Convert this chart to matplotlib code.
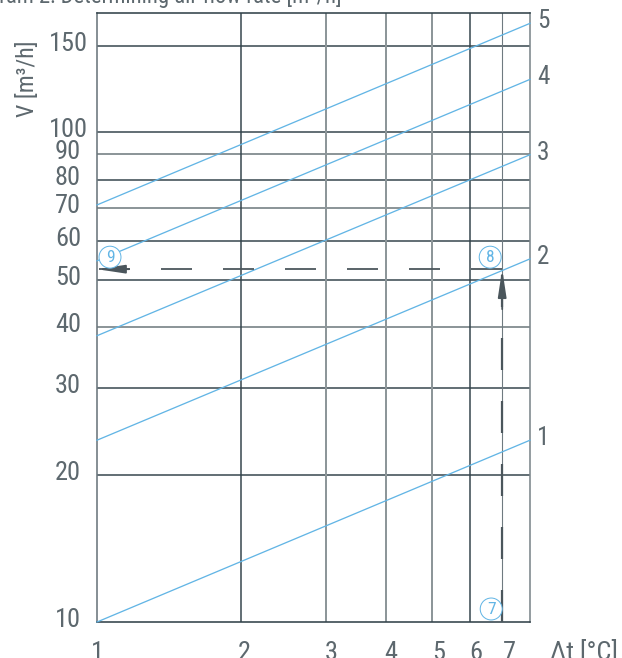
import matplotlib
matplotlib.use('Agg')
import matplotlib.pyplot as plt
from matplotlib import font_manager as fm
from matplotlib.ticker import NullLocator

plt.rcParams['lines.scale_dashes'] = False

# ---------------- data ----------------
dt_range = [1, 8]
v_range = [10, 175]
curve_labels = ['1', '2', '3', '4', '5']
v_at_dt_min = [10.0, 23.5, 38.4, 54.6, 71.0]
v_at_dt_max = [23.5, 55.1, 89.9, 128.1, 166.7]
x_ticks = [1, 2, 3, 4, 5, 6, 7]
y_ticks = [10, 20, 30, 40, 50, 60, 70, 80, 90, 100, 150]
x_grid = [2, 3, 4, 5, 6, 7]
y_grid = [20, 30, 40, 50, 60, 70, 80, 90, 100, 150]
example_dt = 7
example_v = 52.5
marker_labels = ['7', '8', '9']
title = 'Diagram 2: Determining air flow rate [m³/h]'
ylabel = 'V [m³/h]'
xlabel = 'Δt [°C]'

# ---------------- style ----------------
W, H = 622, 658
PT = 0.72  # points per pixel at dpi 100
TXT = '#5d686e'
DARK = '#33434b'
GRAY = '#8d9699'
BLUE = '#62b5e5'
DASH = '#4b565c'
gray_h = {40, 70, 90}
gray_v = {3, 4, 5}
thin_v = {7}
x_label_shift = [0, 3, 5, 5, 7, 6, 7]


def pick_font():
    entries = fm.fontManager.ttflist
    def ok(f):
        return f.style == 'normal' and str(f.weight) in ('400', 'normal', 'regular')
    for p in ['Roboto Condensed', 'Liberation Sans Narrow', 'Arial Narrow']:
        for f in entries:
            if f.name == p and ok(f):
                return f.fname, True
    for f in entries:
        if f.name == 'DejaVu Sans' and f.stretch == 'condensed' and ok(f):
            return f.fname, True
    for f in entries:
        if f.name == 'Roboto' and ok(f):
            return f.fname, False
    return None, False


fpath, condensed = pick_font()
S = 19 if condensed else 16


def fp(size):
    if fpath:
        return fm.FontProperties(fname=fpath, size=size)
    return fm.FontProperties(family='DejaVu Sans', size=size)


fig = plt.figure(figsize=(W / 100, H / 100), dpi=100)
ax = fig.add_axes([97 / W, 36 / H, 433 / W, 609 / H])
ax.set_xscale('log')
ax.set_yscale('log')
ax.set_xlim(dt_range)
ax.set_ylim(v_range)
for axis in (ax.xaxis, ax.yaxis):
    axis.set_major_locator(NullLocator())
    axis.set_minor_locator(NullLocator())
ax.tick_params(which='both', length=0)

for v in y_grid:
    g = v in gray_h
    ax.axhline(v, color=GRAY if g else DARK, lw=(2.0 if g else 1.5) * PT, zorder=1)
for x in x_grid:
    g = x in gray_v
    if x in thin_v:
        ax.axvline(x, color='#6f7a80', lw=1.1 * PT, zorder=1)
    else:
        ax.axvline(x, color=GRAY if g else DARK, lw=(2.0 if g else 1.5) * PT, zorder=1)

ax.spines['top'].set_color(DARK)
ax.spines['bottom'].set_color(DARK)
ax.spines['left'].set_color('#6b767c')
ax.spines['right'].set_color('#7d878c')
for s in ax.spines.values():
    s.set_linewidth(1.6 * PT)

# curves
for lbl, a, b in zip(curve_labels, v_at_dt_min, v_at_dt_max):
    ax.plot(dt_range, [a, b], color=BLUE, lw=1.3 * PT, zorder=3, clip_on=False)
    ax.annotate(lbl, xy=(dt_range[1], b), xytext=(7 * PT, -5 * PT), textcoords='offset points',
                ha='left', va='baseline', color=TXT, fontproperties=fp(S * 0.95),
                annotation_clip=False)

# tick labels
for t, sh in zip(x_ticks, x_label_shift):
    ax.annotate(str(t), xy=(t, v_range[0]), xytext=(sh * PT, -38 * PT), textcoords='offset points',
                ha='center', va='baseline', color=TXT, fontproperties=fp(S), annotation_clip=False)
for v in y_ticks:
    ax.annotate(str(v), xy=(dt_range[0], v), xytext=(-29 * PT, -5 * PT), textcoords='offset points',
                ha='center', va='baseline', color=TXT, fontproperties=fp(S), annotation_clip=False)

# example reading: dashed lines with arrows
ax.plot([example_dt, example_dt], [v_range[0], example_v], color=DASH, lw=2.2 * PT,
        dashes=(32 * PT, 31 * PT), zorder=4, clip_on=False, solid_capstyle='butt',
        dash_capstyle='butt')
ax.plot([example_dt, dt_range[0]], [example_v, example_v], color=DASH, lw=1.8 * PT,
        dashes=(31 * PT, 31 * PT), zorder=4, clip_on=False, dash_capstyle='butt')
astyle = f'-|>,head_length={23 * PT / 10:.3f},head_width={3.5 * PT / 10:.3f}'
ax.annotate('', xy=(example_dt, example_v), xytext=(0, -40 * PT), textcoords='offset points',
            arrowprops=dict(arrowstyle=astyle, mutation_scale=10, color=DASH, lw=1.8 * PT,
                            shrinkA=0, shrinkB=0), annotation_clip=False, zorder=5)
ax.annotate('', xy=(dt_range[0], example_v), xytext=(32 * PT, 0), textcoords='offset points',
            arrowprops=dict(arrowstyle=astyle, mutation_scale=10, color=DASH, lw=1.8 * PT,
                            shrinkA=0, shrinkB=0), annotation_clip=False, zorder=5)

# circled step markers
marker_points = [(example_dt, v_range[0]), (example_dt, example_v), (dt_range[0], example_v)]
marker_offsets = [(-11, 13), (-12, 12), (13, 12)]
for lbl, pt, off in zip(marker_labels, marker_points, marker_offsets):
    ax.annotate(lbl, xy=pt, xytext=(off[0] * PT, off[1] * PT), textcoords='offset points',
                ha='center', va='center', color=BLUE, fontproperties=fp(12.5),
                bbox=dict(boxstyle='circle,pad=0.2', fc='white', ec=BLUE, lw=1.0 * PT),
                annotation_clip=False, zorder=6)

# titles
fig.text(342 / W, 1 - 3 / H, title, ha='right', va='baseline', color=TXT,
         fontproperties=fp(S * 0.86))
fig.text(28 / W, 1 - 79 / H, ylabel, rotation=90, ha='center', va='center', color=TXT,
         fontproperties=fp(S * 0.9))
fig.text(618 / W, -2 / H, xlabel, ha='right', va='baseline', color=TXT, fontproperties=fp(S))

fig.savefig('out.png', dpi=100)
